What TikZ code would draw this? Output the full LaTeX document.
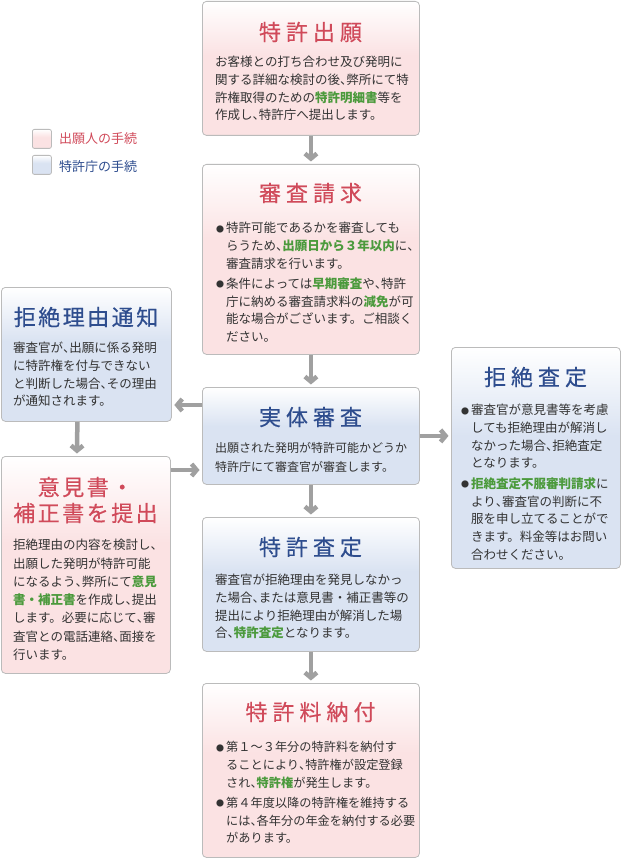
\documentclass[tikz,border=0pt]{standalone}
\usepackage{fontspec}
\setmainfont{Noto Sans CJK JP}
\newfontfamily\halffont[RawFeature=+halt]{Noto Sans CJK JP}
\newfontfamily\titlefont[FakeBold=0.4]{Noto Sans CJK JP}
\usetikzlibrary{arrows.meta,calc}
\definecolor{pinkc}{HTML}{FBE2E3}
\definecolor{bluec}{HTML}{DAE3F2}
\definecolor{borderc}{HTML}{BBBBBB}
\definecolor{redt}{HTML}{D04A5A}
\definecolor{bluet}{HTML}{2E4D8E}
\definecolor{greent}{HTML}{4B9A3C}
\definecolor{bodyt}{HTML}{333333}
\definecolor{arrc}{HTML}{A0A0A0}
\pgfdeclareverticalshading{pinkfade}{100bp}{color(0bp)=(pinkc); color(25bp)=(pinkc); color(55bp)=(pinkc); color(75bp)=(white); color(100bp)=(white)}
\pgfdeclareverticalshading{bluefade}{100bp}{color(0bp)=(bluec); color(25bp)=(bluec); color(55bp)=(bluec); color(75bp)=(white); color(100bp)=(white)}
\newcommand\tq{{\halffont 、}}
\newcommand\grn[1]{{\color{greent}\bfseries #1}}
\newcommand\bul{\makebox[10pt][l]{\raisebox{0.6pt}{\fontsize{8pt}{8pt}\selectfont ●}}}
\newcommand\ind{\hspace*{10pt}}
\newcommand\ts{\hspace{5pt}}
\newcommand\tss{\hspace{2.5pt}}
\begin{document}
\begin{tikzpicture}[x=1pt,y=-1pt,
  box/.style={draw=borderc, line width=0.8pt, rounded corners=4pt, anchor=north west, inner sep=0pt, shade},
  pinkbox/.style={box, shading=pinkfade},
  bluebox/.style={box, shading=bluefade},
  titlef/.style={font=\titlefont\fontsize{22pt}{26pt}\selectfont, anchor=base, inner sep=0pt},
  redtitle/.style={titlef, text=redt},
  bluetitle/.style={titlef, text=bluet},
  bodyf/.style={font=\fontsize{12.5pt}{17.7pt}\selectfont, anchor=base west, inner sep=0pt, text width=215pt, align=left, text=bodyt},
  arr/.style={draw=arrc, line width=4.5pt, -{Straight Barb[length=5pt,width=12pt]}, shorten >=2.5pt}
]
\useasboundingbox (0,0) rectangle (621,858);

% legend
\node[pinkbox, rounded corners=2pt, minimum width=19pt, minimum height=19pt] (lg1) at (32,129) {};
\node[bluebox, rounded corners=2pt, minimum width=19pt, minimum height=19pt] (lg2) at (32,155) {};
\node[anchor=base west, inner sep=0pt, text=redt, font=\fontsize{13pt}{15pt}\selectfont] (lt1) at (59,144) {出願人の手続};
\node[anchor=base west, inner sep=0pt, text=bluet, font=\fontsize{13pt}{15pt}\selectfont] (lt2) at (59,172) {特許庁の手続};

% boxes
\node[pinkbox, minimum width=217pt, minimum height=134pt] (b1) at (202,1) {};
\node[pinkbox, minimum width=217pt, minimum height=190pt] (b2) at (202,164) {};
\node[bluebox, minimum width=217pt, minimum height=97pt] (b3) at (202,387) {};
\node[bluebox, minimum width=217pt, minimum height=134pt] (b4) at (202,517) {};
\node[pinkbox, minimum width=217pt, minimum height=174pt] (b5) at (202,683) {};
\node[bluebox, minimum width=170pt, minimum height=134pt] (l1) at (1,287) {};
\node[pinkbox, minimum width=169pt, minimum height=217pt] (l2) at (1,456) {};
\node[bluebox, minimum width=169pt, minimum height=221pt] (r) at (451,347) {};

% titles
\node[redtitle] (t1) at (310.5,40.4) {特\ts 許\ts 出\ts 願};
\node[redtitle] (t2) at (310.5,201.4) {審\ts 査\ts 請\ts 求};
\node[bluetitle] (t3) at (310.5,425.4) {実\ts 体\ts 審\ts 査};
\node[bluetitle] (t4) at (310.5,555.4) {特\ts 許\ts 査\ts 定};
\node[redtitle] (t5) at (310.5,720.4) {特\ts 許\ts 料\ts 納\ts 付};
\node[bluetitle] (tl1) at (86,325.4) {拒\tss 絶\tss 理\tss 由\tss 通\tss 知};
\node[redtitle] (tl2a) at (85.5,495.4) {意\tss 見\tss 書\tss ・};
\node[redtitle] (tl2b) at (85.5,521.4) {補\tss 正\tss 書\tss を\tss 提\tss 出};
\node[bluetitle] (tr) at (535.5,385.4) {拒\ts 絶\ts 査\ts 定};

% bodies
\node[bodyf] (x1) at (215,66.75) {お客様との打ち合わせ及び発明に\\
関する詳細な検討の後\tq 弊所にて特\\
許権取得のための\grn{特許明細書}等を\\
作成し\tq 特許庁へ提出します。};

\node[bodyf] (x2) at (216,232.75) {\bul 特許可能であるかを審査しても\\
\ind らうため\tq\grn{出願日から３年以内}に\tq\\
\ind 審査請求を行います。\\[2.5pt]
\bul 条件によっては\grn{早期審査}や\tq 特許\\
\ind 庁に納める審査請求料の\grn{減免}が可\\
\ind 能な場合がございます。ご相談く\\
\ind ださい。};

\node[bodyf, font=\fontsize{12pt}{18.5pt}\selectfont] (x3) at (215,452.5) {出願された発明が特許可能かどうか\\
特許庁にて審査官が審査します。};

\node[bodyf] (x4) at (215,584.75) {審査官が拒絶理由を発見しなかっ\\
た場合\tq または意見書・補正書等の\\
提出により拒絶理由が解消した場\\
合\tq\grn{特許査定}となります。};

\node[bodyf, font=\fontsize{12.2pt}{17.7pt}\selectfont] (x5) at (216,751.75) {\bul 第１～３年分の特許料を納付す\\
\ind ることにより\tq 特許権が設定登録\\
\ind され\tq\grn{特許権}が発生します。\\[2.5pt]
\bul 第４年度以降の特許権を維持する\\
\ind には\tq 各年分の年金を納付する必要\\
\ind があります。};

\node[bodyf, text width=160pt] (xl1) at (13,352.75) {審査官が\tq 出願に係る発明\\
に特許権を付与できない\\
と判断した場合\tq その理由\\
が通知されます。};

\node[bodyf, text width=160pt, font=\fontsize{12.5pt}{18.3pt}\selectfont] (xl2) at (13,549.75) {拒絶理由の内容を検討し\tq\\
出願した発明が特許可能\\
になるよう\tq 弊所にて\grn{意見}\\
\grn{書・補正書}を作成し\tq 提出\\
します。必要に応じて\tq 審\\
査官との電話連絡\tq 面接を\\
行います。};

\node[bodyf, text width=160pt] (xr) at (461,414.75) {\bul 審査官が意見書等を考慮\\
\ind しても拒絶理由が解消し\\
\ind なかった場合\tq 拒絶査定\\
\ind となります。\\[3pt]
\bul \grn{拒絶査定不服審判請求}に\\
\ind より\tq 審査官の判断に不\\
\ind 服を申し立てることがで\\
\ind きます。料金等はお問い\\
\ind 合わせください。};

% connectors
\draw[arr] (b1.south) -- (b2.north);
\draw[arr] (b2.south) -- (b3.north);
\draw[arr] (b3.south) -- (b4.north);
\draw[arr] (b4.south) -- (b5.north);
\draw[arr] (b3.west |- 0,405) -- (l1.east |- 0,405);
\draw[arr] (l2.east |- 0,470) -- (b3.west |- 0,470);
\draw[arr] (b3.east) -- (r.west |- b3.east);
\draw[arr] ($(l1.south)+(-9,0)$) -- ($(l2.north)+(-9,0)$);
\end{tikzpicture}
\end{document}
